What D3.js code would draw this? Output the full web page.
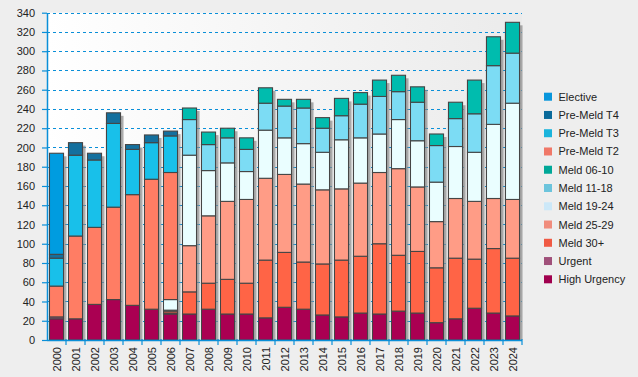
<!DOCTYPE html>
<html>
<head>
<meta charset="utf-8">
<script src="https://cdn.jsdelivr.net/npm/d3@7"></script>
<style>
    body { margin: 0; background: #eeeeee; }
    svg { display: block; font-family: "Liberation Sans", Arial, sans-serif; }
</style>
</head>
<body>
<div id="chart"></div>
<script>
// Chart data
const years = ["2000", "2001", "2002", "2003", "2004", "2005", "2006", "2007", "2008", "2009",
    "2010", "2011", "2012", "2013", "2014", "2015", "2016", "2017", "2018", "2019",
    "2020", "2021", "2022", "2023", "2024"]

const highUrgency = [22, 22, 37, 42, 36, 32, 27, 27, 32, 27, 27, 23, 34, 32, 26, 24, 28, 27, 30, 28, 18, 22, 33, 28, 25]
const urgent = [2, 0, 0, 0, 0, 0, 1, 0, 0, 0, 0, 0, 0, 0, 0, 0, 0, 0, 0, 0, 0, 0, 0, 0, 0]
const meld30 = [0, 0, 0, 0, 0, 0, 2, 23, 27, 36, 32, 60, 57, 49, 53, 59, 59, 73, 58, 64, 57, 63, 51, 67, 60]
const meld2529 = [0, 0, 0, 0, 0, 0, 1, 48, 70, 81, 87, 85, 81, 81, 77, 74, 76, 74, 90, 67, 48, 62, 60, 52, 61]
const meld1924 = [0, 0, 0, 0, 0, 0, 11, 94, 47, 40, 29, 50, 38, 42, 39, 51, 47, 40, 51, 48, 41, 54, 51, 77, 100]
const meld1118 = [0, 0, 0, 0, 0, 0, 0, 37, 27, 26, 23, 28, 33, 37, 25, 25, 35, 39, 29, 40, 38, 29, 40, 61, 52]
const meld0610 = [0, 0, 0, 0, 0, 0, 0, 12, 13, 10, 12, 16, 7, 9, 11, 18, 12, 17, 17, 16, 12, 17, 35, 30, 32]
const preMeldT2 = [32, 86, 80, 96, 115, 135, 132, 0, 0, 0, 0, 0, 0, 0, 0, 0, 0, 0, 0, 0, 0, 0, 0, 0, 0]
const preMeldT3 = [29, 84, 70, 87, 47, 38, 38, 0, 0, 0, 0, 0, 0, 0, 0, 0, 0, 0, 0, 0, 0, 0, 0, 0, 0]
const preMeldT4 = [4, 13, 7, 11, 5, 8, 5, 0, 0, 0, 0, 0, 0, 0, 0, 0, 0, 0, 0, 0, 0, 0, 0, 0, 0]
const elective = [105, 0, 0, 0, 0, 0, 0, 0, 0, 0, 0, 0, 0, 0, 0, 0, 0, 0, 0, 0, 0, 0, 0, 0, 0]

// Stack order, bottom first
const seriesNames = ["High Urgency", "Urgent", "Meld 30+", "Meld 25-29", "Meld 19-24", "Meld 11-18",
    "Meld 06-10", "Pre-Meld T2", "Pre-Meld T3", "Pre-Meld T4", "Elective"]
const seriesValues = [highUrgency, urgent, meld30, meld2529, meld1924, meld1118,
    meld0610, preMeldT2, preMeldT3, preMeldT4, elective]

const yTicks = d3.range(0, 341, 20)

// Colours (bars are a bit brighter than legend swatches)
const barColors = ['#aa0052', '#a8507e', '#ff6446', '#ff9c86', '#eafeff', '#7cdcf4',
    '#00bcae', '#ff7d64', '#18c0ea', '#14709e', '#009ce0']
const legendColors = ['#a0004e', '#a0507a', '#f05a44', '#f08c7c', '#cce8f8', '#6cc4dc',
    '#00a898', '#f07868', '#1ab4dc', '#0a6a9a', '#0896dc']
const axisColor = '#0a8fd8'

const width = 638, height = 377
const plot = { left: 47, right: 522, top: 12.7, bottom: 340 }

const svg = d3.select('#chart')
    .append('svg')
    .attr('width', width)
    .attr('height', height)

// Plot background gradient
const grad = svg.append('defs').append('linearGradient')
    .attr('id', 'bg')
    .attr('x1', 0).attr('x2', 1).attr('y1', 0).attr('y2', 0)
grad.append('stop').attr('offset', '0%').attr('stop-color', '#ffffff')
grad.append('stop').attr('offset', '100%').attr('stop-color', '#ebebeb')

svg.append('rect')
    .attr('x', plot.left)
    .attr('y', plot.top)
    .attr('width', plot.right - plot.left)
    .attr('height', plot.bottom - plot.top)
    .attr('fill', 'url(#bg)')

// Scales
const x = d3.scaleBand()
    .domain(years)
    .range([plot.left, plot.right])
    .paddingInner(0.26)
    .paddingOuter(0.13)

const y = d3.scaleLinear()
    .domain([0, 340])
    .range([plot.bottom, plot.top])

// Gridlines
svg.append('g')
    .selectAll('line')
    .data(yTicks.filter(d => d > 0))
    .enter()
    .append('line')
    .attr('x1', plot.left)
    .attr('x2', plot.right)
    .attr('y1', d => Math.round(y(d)) + 0.5)
    .attr('y2', d => Math.round(y(d)) + 0.5)
    .attr('stroke', axisColor)
    .attr('stroke-width', 1)
    .attr('stroke-dasharray', '3,3')

// Build stacked data
const table = years.map((yr, i) => {
    const row = { year: yr }
    seriesNames.forEach((s, j) => { row[s] = seriesValues[j][i] })
    return row
})
const stacked = d3.stack().keys(seriesNames)(table)

// Shadows behind each bar
svg.append('g')
    .selectAll('rect')
    .data(table)
    .enter()
    .append('rect')
    .attr('x', d => x(d.year) + 3)
    .attr('y', d => y(d3.sum(seriesNames, s => d[s])) + 3)
    .attr('width', x.bandwidth())
    .attr('height', d => y(0) - y(d3.sum(seriesNames, s => d[s])) - 3)
    .attr('fill', '#8a8a8a')
    .attr('opacity', 0.7)

// Bar segments
svg.append('g')
    .selectAll('g')
    .data(stacked)
    .enter()
    .append('g')
    .attr('fill', (d, i) => barColors[i])
    .selectAll('rect')
    .data(d => d.filter(e => e[1] - e[0] > 0))
    .enter()
    .append('rect')
    .attr('x', d => x(d.data.year))
    .attr('y', d => y(d[1]))
    .attr('width', x.bandwidth())
    .attr('height', d => y(d[0]) - y(d[1]))
    .attr('stroke', '#454545')
    .attr('stroke-width', 1.1)

// Y axis
const yAxis = svg.append('g')
    .attr('transform', `translate(${plot.left},0)`)
    .call(d3.axisLeft(y).tickValues(yTicks).tickSize(5).tickPadding(7).tickSizeOuter(0))
yAxis.select('.domain').attr('stroke', axisColor).attr('stroke-width', 1.5)
yAxis.selectAll('.tick line').attr('stroke', axisColor).attr('stroke-width', 1.2)
yAxis.selectAll('text')
    .attr('fill', '#222')
    .style('font-size', '11px')
    .style('font-family', '"Liberation Sans", Arial, sans-serif')

// X axis line and tick marks at band edges
svg.append('line')
    .attr('x1', plot.left)
    .attr('x2', plot.right)
    .attr('y1', plot.bottom + 0.5)
    .attr('y2', plot.bottom + 0.5)
    .attr('stroke', axisColor)
    .attr('stroke-width', 1.5)

const gap = (x.step() - x.bandwidth()) / 2
svg.append('g')
    .selectAll('line')
    .data(years.slice(1).concat(['end']))
    .enter()
    .append('line')
    .attr('x1', (d, i) => i < years.length - 1 ? x(d) - gap : x(years[years.length - 1]) + x.bandwidth() + gap)
    .attr('x2', (d, i) => i < years.length - 1 ? x(d) - gap : x(years[years.length - 1]) + x.bandwidth() + gap)
    .attr('y1', plot.bottom - 1)
    .attr('y2', plot.bottom + 5)
    .attr('stroke', axisColor)
    .attr('stroke-width', 1.2)

// Year labels, rotated
svg.append('g')
    .selectAll('text')
    .data(years)
    .enter()
    .append('text')
    .attr('transform', d => `translate(${x(d) + x.bandwidth() / 2 + 4},347) rotate(-90)`)
    .attr('text-anchor', 'end')
    .attr('fill', '#222')
    .style('font-size', '11px')
    .text(d => d)

// Legend (top entry is the top of the stack)
const legendOrder = seriesNames.map((s, i) => i).reverse()
const legend = svg.append('g')
    .selectAll('g')
    .data(legendOrder)
    .enter()
    .append('g')
    .attr('transform', (d, i) => `translate(544,${96.7 + i * 18.26})`)

legend.append('rect')
    .attr('x', 0)
    .attr('y', -4)
    .attr('width', 8)
    .attr('height', 8)
    .attr('fill', d => legendColors[d])

legend.append('text')
    .attr('x', 14.5)
    .attr('y', 4)
    .attr('fill', '#222')
    .style('font-size', '11px')
    .text(d => seriesNames[d])
</script>
</body>
</html>
